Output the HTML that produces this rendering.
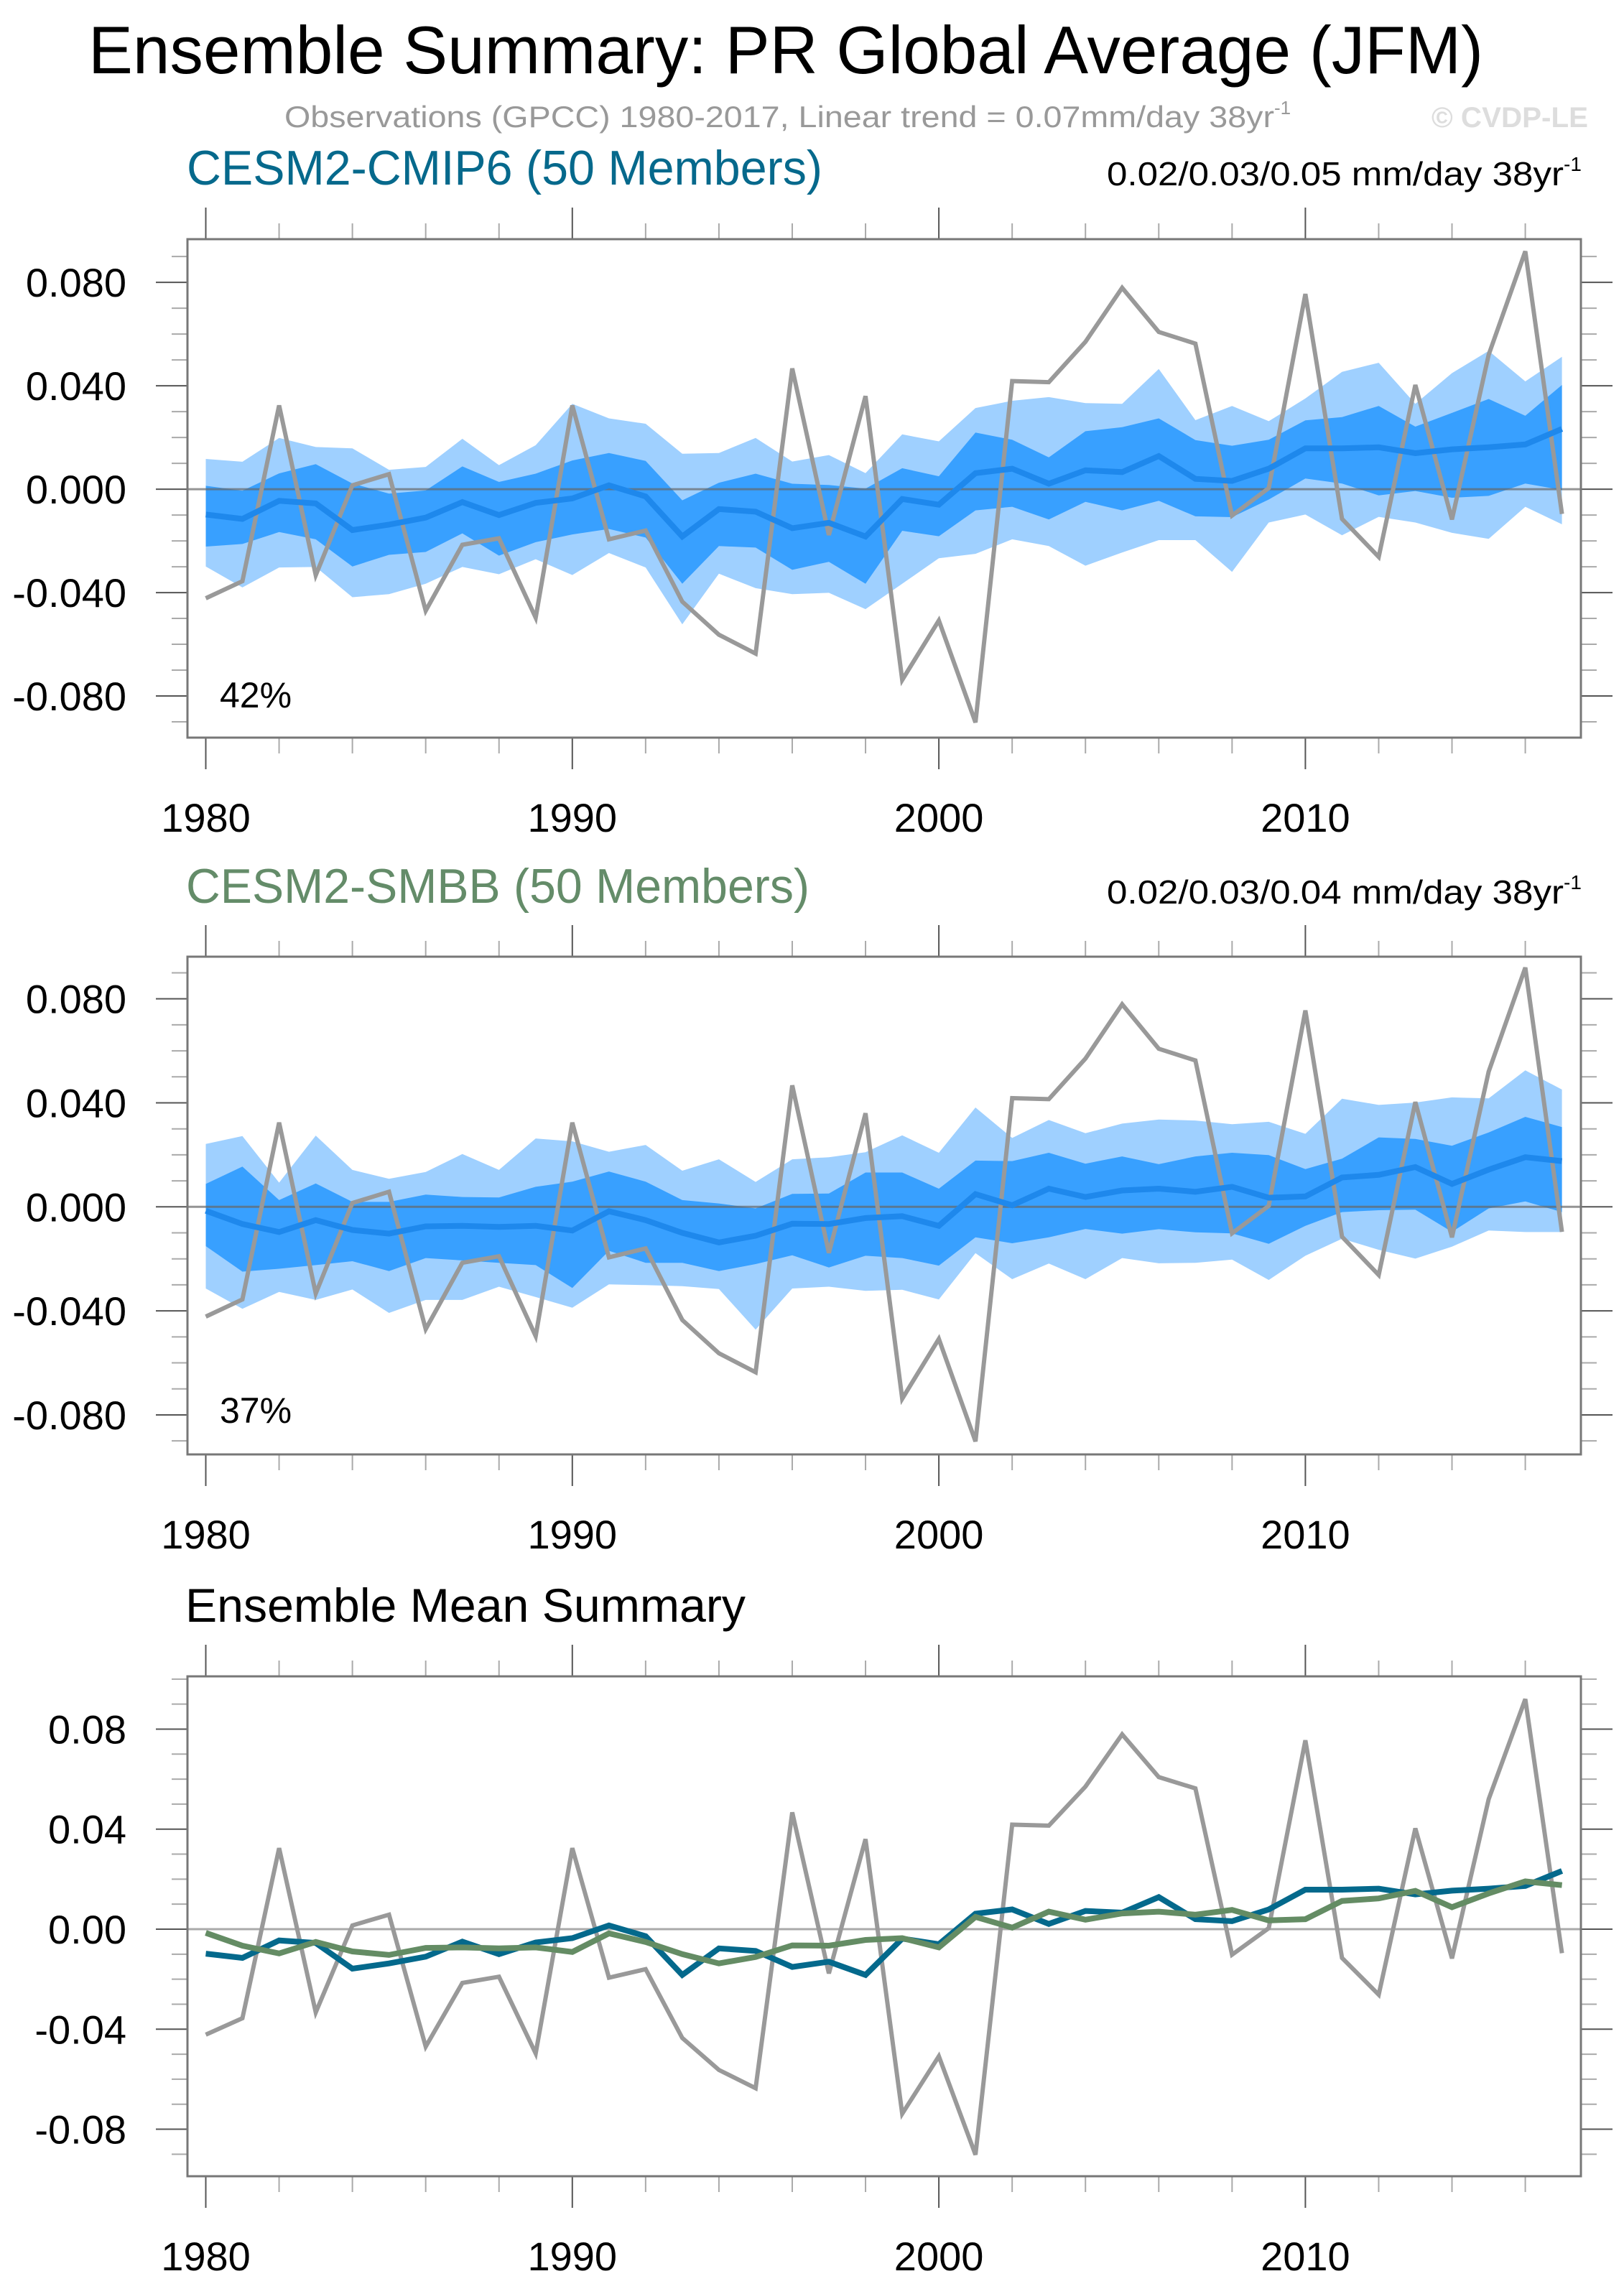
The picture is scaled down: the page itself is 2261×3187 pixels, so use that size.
<!DOCTYPE html>
<html><head><meta charset="utf-8"><style>
html,body{margin:0;padding:0;background:#fff;}
svg{display:block;font-family:"Liberation Sans",Arial,sans-serif;}
</style></head><body>
<svg id="chart" width="2261" height="3187" viewBox="0 0 2261 3187" xmlns="http://www.w3.org/2000/svg">
<rect width="2261" height="3187" fill="#fff"/>
<text x="123" y="102" font-size="94" fill="#000" textLength="1942" lengthAdjust="spacingAndGlyphs">Ensemble Summary: PR Global Average (JFM)</text>
<text x="396" y="177" font-size="42" fill="#999"><tspan textLength="1378" lengthAdjust="spacingAndGlyphs">Observations (GPCC) 1980-2017, Linear trend = 0.07mm/day 38yr</tspan><tspan font-size="26" dy="-18">-1</tspan></text>
<text x="1993" y="177" font-size="40" font-weight="bold" fill="#dddddd" textLength="218" lengthAdjust="spacingAndGlyphs">© CVDP-LE</text>
<g id="p1"></g>
<g id="p2"></g>
<g id="p3"></g>
</svg>
<script>
const years = [1980,1981,1982,1983,1984,1985,1986,1987,1988,1989,1990,1991,1992,1993,1994,1995,1996,1997,1998,1999,2000,2001,2002,2003,2004,2005,2006,2007,2008,2009,2010,2011,2012,2013,2014,2015,2016,2017];
const obs = [-0.0422,-0.0356,0.0324,-0.0333,0.0015,0.0058,-0.0470,-0.0215,-0.0190,-0.0497,0.0324,-0.0194,-0.0160,-0.0435,-0.0563,-0.0636,0.0467,-0.0177,0.0360,-0.0738,-0.0508,-0.0902,0.0418,0.0414,0.0570,0.0779,0.0608,0.0563,-0.0102,0.0004,0.0755,-0.0115,-0.0262,0.0403,-0.0117,0.0520,0.0920,-0.0096];
const cmipMean = [-0.0098,-0.0115,-0.0045,-0.0055,-0.0158,-0.0137,-0.0110,-0.0050,-0.0100,-0.0053,-0.0036,0.0015,-0.0028,-0.0183,-0.0077,-0.0087,-0.0151,-0.0130,-0.0183,-0.0038,-0.0060,0.0062,0.0079,0.0021,0.0073,0.0066,0.0128,0.0040,0.0032,0.0079,0.0158,0.0158,0.0162,0.0139,0.0154,0.0162,0.0173,0.0233];
const cmipOuterHi = [0.0117,0.0106,0.0198,0.0163,0.0158,0.0075,0.0086,0.0195,0.0093,0.0170,0.0330,0.0274,0.0253,0.0137,0.0140,0.0198,0.0107,0.0132,0.0062,0.0212,0.0185,0.0314,0.0342,0.0356,0.0333,0.0330,0.0465,0.0267,0.0322,0.0263,0.0351,0.0454,0.0489,0.0330,0.0449,0.0535,0.0417,0.0512];
const cmipInnerHi = [0.0013,-0.0006,0.0061,0.0097,0.0022,-0.0017,-0.0005,0.0088,0.0028,0.0060,0.0111,0.0140,0.0109,-0.0043,0.0025,0.0060,0.0021,0.0016,0.0002,0.0081,0.0050,0.0219,0.0191,0.0123,0.0224,0.0240,0.0274,0.0190,0.0168,0.0191,0.0266,0.0279,0.0322,0.0242,0.0295,0.0349,0.0284,0.0403];
const cmipInnerLo = [-0.0222,-0.0212,-0.0166,-0.0194,-0.0299,-0.0254,-0.0243,-0.0171,-0.0257,-0.0205,-0.0175,-0.0154,-0.0187,-0.0366,-0.0220,-0.0226,-0.0312,-0.0281,-0.0366,-0.0161,-0.0182,-0.0082,-0.0068,-0.0117,-0.0049,-0.0082,-0.0045,-0.0105,-0.0108,-0.0040,0.0041,0.0022,-0.0024,-0.0007,-0.0033,-0.0026,0.0022,-0.0003];
const cmipOuterLo = [-0.0299,-0.0380,-0.0303,-0.0301,-0.0418,-0.0406,-0.0366,-0.0301,-0.0329,-0.0271,-0.0332,-0.0247,-0.0303,-0.0523,-0.0327,-0.0383,-0.0406,-0.0401,-0.0464,-0.0366,-0.0267,-0.0250,-0.0194,-0.0220,-0.0296,-0.0245,-0.0197,-0.0197,-0.0320,-0.0129,-0.0098,-0.0178,-0.0107,-0.0129,-0.0169,-0.0192,-0.0068,-0.0136];
const smbbMean = [-0.0015,-0.0066,-0.0097,-0.0051,-0.0089,-0.0103,-0.0075,-0.0073,-0.0077,-0.0073,-0.0091,-0.0017,-0.0051,-0.0100,-0.0137,-0.0111,-0.0065,-0.0066,-0.0043,-0.0036,-0.0073,0.0049,0.0006,0.0070,0.0038,0.0063,0.0070,0.0058,0.0077,0.0035,0.0040,0.0113,0.0123,0.0153,0.0088,0.0143,0.0191,0.0176];
const smbbOuterHi = [0.0242,0.0272,0.0093,0.0274,0.0142,0.0108,0.0134,0.0203,0.0142,0.0263,0.0252,0.0212,0.0238,0.0139,0.0183,0.0096,0.0183,0.0191,0.0210,0.0275,0.0208,0.0382,0.0265,0.0334,0.0283,0.0320,0.0336,0.0332,0.0318,0.0327,0.0281,0.0416,0.0392,0.0401,0.0421,0.0417,0.0525,0.0451];
const smbbInnerHi = [0.0088,0.0155,0.0026,0.0090,0.0019,0.0019,0.0047,0.0038,0.0036,0.0077,0.0097,0.0136,0.0097,0.0026,0.0013,-0.0006,0.0050,0.0051,0.0132,0.0132,0.0070,0.0178,0.0176,0.0208,0.0166,0.0194,0.0164,0.0194,0.0208,0.0199,0.0145,0.0185,0.0267,0.0261,0.0235,0.0286,0.0346,0.0307];
const smbbInnerLo = [-0.0151,-0.0249,-0.0238,-0.0224,-0.0209,-0.0247,-0.0197,-0.0206,-0.0215,-0.0224,-0.0312,-0.0169,-0.0215,-0.0215,-0.0247,-0.0220,-0.0186,-0.0233,-0.0188,-0.0197,-0.0226,-0.0117,-0.0140,-0.0117,-0.0085,-0.0103,-0.0086,-0.0098,-0.0102,-0.0142,-0.0073,-0.0020,-0.0013,-0.0011,-0.0096,-0.0006,0.0021,-0.0020];
const smbbOuterLo = [-0.0314,-0.0392,-0.0327,-0.0358,-0.0318,-0.0408,-0.0358,-0.0358,-0.0307,-0.0347,-0.0388,-0.0298,-0.0301,-0.0305,-0.0316,-0.0472,-0.0314,-0.0307,-0.0323,-0.0319,-0.0356,-0.0178,-0.0278,-0.0218,-0.0278,-0.0197,-0.0217,-0.0215,-0.0203,-0.0281,-0.0188,-0.0123,-0.0165,-0.0199,-0.0153,-0.0091,-0.0097,-0.0097];
const xTickLabels = ["1980","1990","2000","2010"];
const yTicks12 = [0.08,0.04,0,-0.04,-0.08];
const yLabels12 = ["0.080","0.040","0.000","-0.040","-0.080"];
const yLabels3 = ["0.08","0.04","0.00","-0.04","-0.08"];

const NS = "http://www.w3.org/2000/svg";
function mk(parent, tag, attrs){const e=document.createElementNS(NS,tag);for(const k in attrs)e.setAttribute(k,attrs[k]);parent.appendChild(e);return e;}

const L=261,R=2201;
function xs(yr){return 286.5+(yr-1980)*51.03;}

function panel(g, top, bot, ymax, ymin, ylabels, opts){
  const ys=v=>top+(ymax-v)/(ymax-ymin)*(bot-top);
  const lineFor=(arr)=>arr.map((v,i)=>(i?"L":"M")+xs(years[i]).toFixed(1)+","+ys(v).toFixed(1)).join("");
  const bandFor=(hi,lo)=>{let d=hi.map((v,i)=>(i?"L":"M")+xs(years[i]).toFixed(1)+","+ys(v).toFixed(1)).join("");
    for(let i=lo.length-1;i>=0;i--)d+="L"+xs(years[i]).toFixed(1)+","+ys(lo[i]).toFixed(1);return d+"Z";};
  for(let yr=1980;yr<=2018;yr+=2){
    const major=(yr%10===0);const x=xs(yr);if(x>R)continue;
    const t1=mk(g,"line",{x1:x,x2:x,y1:top,y2:top-(major?44:22),stroke:major?"#555":"#aaa","stroke-width":2});
    
    
    const t2=mk(g,"line",{x1:x,x2:x,y1:bot,y2:bot+(major?44:22),stroke:major?"#555":"#aaa","stroke-width":2});
    
    
  }
  for(let k=-10;k<=10;k++){
    const v=k*0.01;if(v>ymax||v<ymin)continue;const y=ys(v);const major=(k%4===0);
    const a=mk(g,"line",{x1:L,x2:L-(major?44:22),y1:y,y2:y,stroke:major?"#555":"#aaa","stroke-width":2});
    
    
    const b=mk(g,"line",{x1:R,x2:R+(major?44:22),y1:y,y2:y,stroke:major?"#555":"#aaa","stroke-width":2});
    
    
  }
  yTicks12.forEach((v,i)=>{
    const t=mk(g,"text",{x:176,y:ys(v)+20,"font-size":56,"text-anchor":"end",fill:"#000"});
    
    
    t.textContent=ylabels[i];
  });
  xTickLabels.forEach(s=>{
    const t=mk(g,"text",{x:xs(+s),y:bot+131,"font-size":56,"text-anchor":"middle",fill:"#000"});
    
    
    t.textContent=s;
  });
  const clip=mk(g,"clipPath",{id:g.id+"clip"});mk(clip,"rect",{x:L,y:top,width:R-L,height:bot-top});
  const pg=mk(g,"g",{"clip-path":"url(#"+g.id+"clip)"});
  if(opts.bands){
    const o=mk(pg,"path",{d:bandFor(opts.bands[0],opts.bands[3]),fill:"#9fd0ff"});
    
    
    const n=mk(pg,"path",{d:bandFor(opts.bands[1],opts.bands[2]),fill:"#38a0ff"});
    
    
  }
  const z=mk(pg,"line",{x1:L,x2:R,y1:ys(0),y2:ys(0),stroke:opts.bands?"#666":"#aaa","stroke-width":3,"stroke-opacity":opts.bands?0.7:1});
  
  
  const ob=mk(pg,"path",{d:lineFor(obs),fill:"none",stroke:"#999","stroke-width":6,"stroke-linejoin":"miter"});
  
  
  opts.lines.forEach(ln=>{
    const p=mk(pg,"path",{d:lineFor(ln.data),fill:"none",stroke:ln.color,"stroke-width":8,"stroke-linejoin":"miter"});
    
    
  });
  const f=mk(g,"rect",{x:L,y:top,width:R-L,height:bot-top,fill:"none",stroke:"#777","stroke-width":3});
  
  
  return ys;
}
function txt(g,x,y,size,fill,s,name,tl){
  const t=mk(g,"text",{x:x,y:y,"font-size":size,fill:fill});
  if(tl){t.setAttribute("textLength",tl);t.setAttribute("lengthAdjust","spacingAndGlyphs");}
  
  
  t.textContent=s;return t;
}
function trend(g,y,s){
  const t=mk(g,"text",{x:1541,y:y,"font-size":46,fill:"#000"});
  
  
  const a=mk(t,"tspan",{textLength:636,lengthAdjust:"spacingAndGlyphs"});a.textContent=s;
  const b=mk(t,"tspan",{"font-size":28,dy:-20});b.textContent="-1";
}

const p1=document.getElementById("p1");
txt(p1,260,257,68,"#06698c","CESM2-CMIP6 (50 Members)","panel-title",885);
trend(p1,258,"0.02/0.03/0.05 mm/day 38yr");
panel(p1,333,1027,0.0967,-0.0961,yLabels12,{bands:[cmipOuterHi,cmipInnerHi,cmipInnerLo,cmipOuterLo],lines:[{data:cmipMean,color:"#1e88ec",name:"cmip6-ensemble-mean-line"}]});
txt(p1,306,985,50,"#000","42%","percent-label");

const p2=document.getElementById("p2");
txt(p2,259,1257,68,"#648c69","CESM2-SMBB (50 Members)","panel-title",868);
trend(p2,1258,"0.02/0.03/0.04 mm/day 38yr");
panel(p2,1332,2025,0.0962,-0.0952,yLabels12,{bands:[smbbOuterHi,smbbInnerHi,smbbInnerLo,smbbOuterLo],lines:[{data:smbbMean,color:"#1e88ec",name:"smbb-ensemble-mean-line"}]});
txt(p2,306,1981,50,"#000","37%","percent-label");

const p3=document.getElementById("p3");
txt(p3,258,2258,66,"#000","Ensemble Mean Summary","panel-title",780);
panel(p3,2334,3030,0.1011,-0.0988,yLabels3,{bands:null,lines:[{data:cmipMean,color:"#04698c",name:"cmip6-mean-line"},{data:smbbMean,color:"#648c64",name:"smbb-mean-line"}]});
</script>
</body></html>
